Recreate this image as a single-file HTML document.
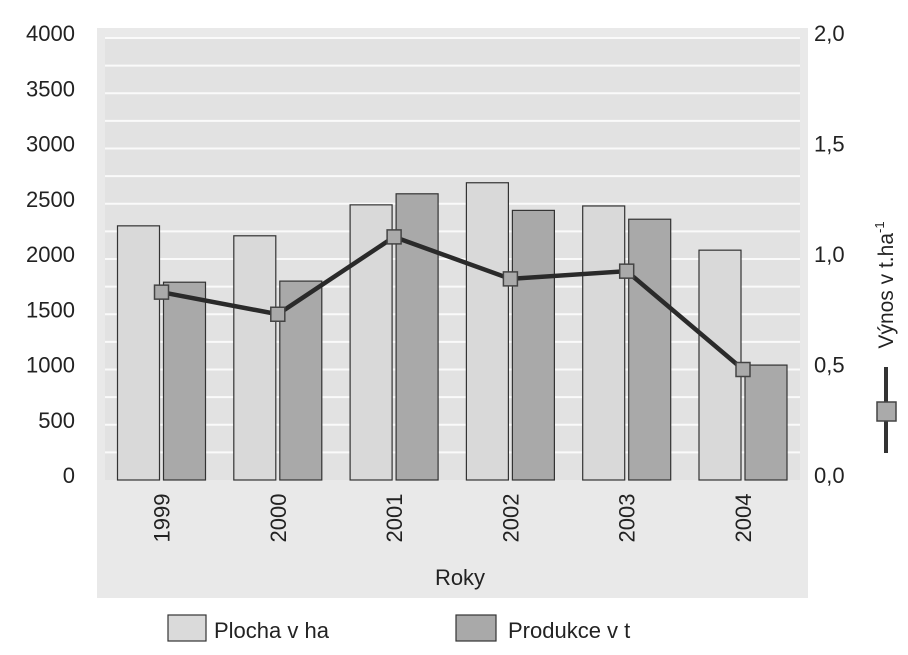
<!DOCTYPE html>
<html><head><meta charset="utf-8"><style>
body{margin:0;background:#fff;}
svg text{font-family:"Liberation Sans",sans-serif;fill:#222;}
</style></head><body>
<svg id="chart" width="908" height="650" xmlns="http://www.w3.org/2000/svg">
<rect x="97" y="28" width="711" height="570" fill="#e9e9e9"/>
<rect x="105" y="37" width="695" height="443" fill="#e2e2e2"/>
<g id="grid"></g>
<g id="bars"></g>
<g id="line"></g>
<g id="axes"></g>
<text x="460" y="585" font-size="22" text-anchor="middle">Roky</text>
<text transform="translate(893,285) rotate(-90)" font-size="21" text-anchor="middle">Výnos v t.ha<tspan dy="-9" font-size="13">-1</tspan></text>
<line x1="886" y1="367" x2="886" y2="453" stroke="#333" stroke-width="4"/>
<rect x="877" y="402" width="19" height="19" fill="#aaa" stroke="#444" stroke-width="1.5"/>
<rect x="168" y="615" width="38" height="26" fill="#dadada" stroke="#333" stroke-width="1.2"/>
<text x="214" y="638" font-size="22">Plocha v ha</text>
<rect x="456" y="615" width="40" height="26" fill="#a9a9a9" stroke="#333" stroke-width="1.2"/>
<text x="508" y="638" font-size="22">Produkce v t</text>
</svg>
<script>
const categories = ["1999","2000","2001","2002","2003","2004"];
const plocha = [2300, 2210, 2490, 2690, 2480, 2080];
const produkce = [1790, 1800, 2590, 2440, 2360, 1040];
const vynos = [0.85, 0.75, 1.10, 0.91, 0.945, 0.50];
const leftTicks = [0,500,1000,1500,2000,2500,3000,3500,4000];
const rightTicks = ["0,0","0,5","1,0","1,5","2,0"];
const NS="http://www.w3.org/2000/svg";
const y0=480, yTop=38, x0=105, step=116.3;
const yL=v=>y0-(v/4000)*(y0-yTop);
const yR=v=>y0-(v/2)*(y0-yTop);
const xC=i=>x0+56.5+i*step;
function mk(tag,attrs,parent,txt){const e=document.createElementNS(NS,tag);for(const k in attrs)e.setAttribute(k,attrs[k]);if(txt!==undefined)e.textContent=txt;parent.appendChild(e);return e;}
const grid=document.getElementById('grid'),bars=document.getElementById('bars'),line=document.getElementById('line'),axes=document.getElementById('axes');
for(let v=250;v<=4000;v+=250){const l=mk('line',{x1:x0,x2:800,y1:yL(v),y2:yL(v),stroke:'#fafafa','stroke-width':2},grid);

}
leftTicks.forEach(v=>{const t=mk('text',{x:75,y:yL(v)+3,'font-size':22,'text-anchor':'end'},axes,String(v));

});
rightTicks.forEach((s,i)=>{const t=mk('text',{x:814,y:yR(i*0.5)+3,'font-size':22},axes,s);

});
categories.forEach((c,i)=>{
 const cx=xC(i);
 const a=mk('rect',{x:cx-44,y:yL(plocha[i]),width:42,height:y0-yL(plocha[i]),fill:'#d9d9d9',stroke:'#333','stroke-width':1.2},bars);
 
 
 const b=mk('rect',{x:cx+2,y:yL(produkce[i]),width:42,height:y0-yL(produkce[i]),fill:'#a9a9a9',stroke:'#333','stroke-width':1.2},bars);
 
 
 const t=mk('text',{transform:`translate(${cx+8},518) rotate(-90)`,'font-size':22,'text-anchor':'middle'},axes,c);
 
 
});
const pts=vynos.map((v,i)=>[xC(i),yR(v)]);
const pl=mk('polyline',{points:pts.map(p=>p.join(',')).join(' '),fill:'none',stroke:'#2a2a2a','stroke-width':4.5},line);


pts.forEach((p,i)=>{const m=mk('rect',{x:p[0]-7,y:p[1]-7,width:14,height:14,fill:'#aaa',stroke:'#444','stroke-width':1.5},line);

});
</script>
</body></html>
